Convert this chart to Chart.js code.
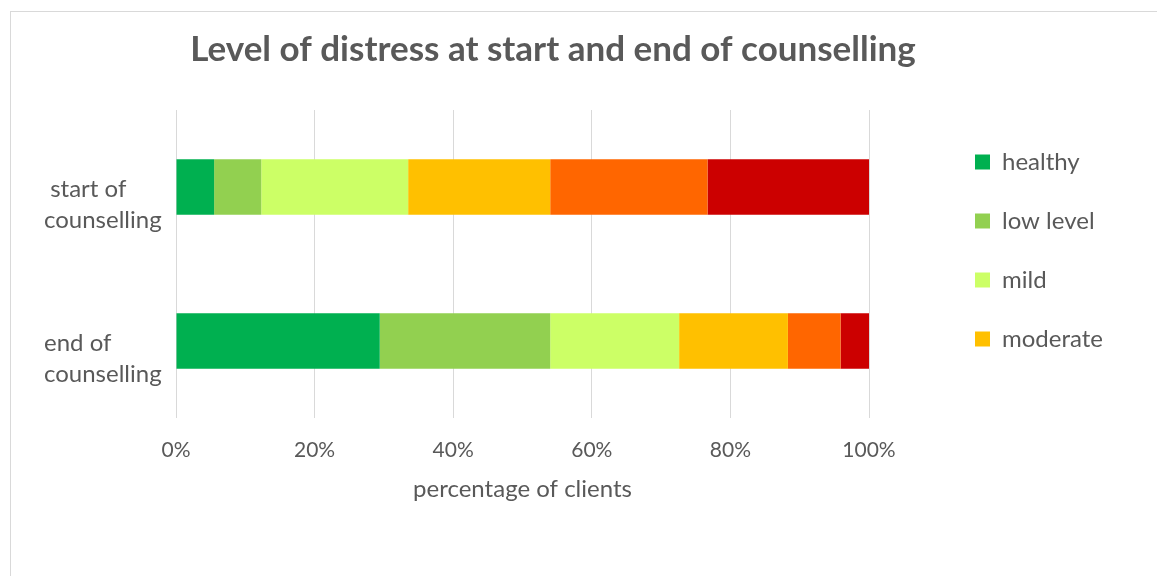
<!DOCTYPE html>
<html>
<head>
<meta charset="utf-8">
<script src="https://cdn.jsdelivr.net/npm/chart.js@4/dist/chart.umd.min.js"></script>
<style>
  html, body { margin: 0; padding: 0; background: #ffffff; width: 1157px; height: 576px; overflow: hidden; }
  #frame { position: absolute; left: 10px; top: 11px; width: 1200px; height: 620px; border: 1px solid #d9d9d9; box-sizing: border-box; }
  #wrap { position: absolute; left: 0; top: 0; width: 1157px; height: 576px; }
</style>
</head>
<body>
<div id="frame"></div>
<div id="wrap"><canvas id="chart" width="1157" height="576"></canvas></div>
<script>
// Chart text
const chartTitle = 'Level of distress at start and end of counselling';
const axisTitle = 'percentage of clients';

// Rows (multi-line labels)
const categories = [[' start of', 'counselling'], ['end of', 'counselling']];

// Distress levels, in stacking order
const levels = ['healthy', 'low level', 'mild', 'moderate', 'moderately severe', 'severe'];
const levelColours = ['#00B050', '#92D050', '#CCFF66', '#FFC000', '#FF6600', '#CC0000'];

// Percentage of clients in each level
const startValues = [5.5, 6.8, 21.2, 20.5, 22.7, 23.3];
const endValues = [29.4, 24.6, 18.6, 15.7, 7.6, 4.1];

// Axis ticks (percent)
const xTicks = [0, 20, 40, 60, 80, 100];

// Only these entries fit in the legend
const legendShown = ['healthy', 'low level', 'mild', 'moderate'];

const FONT = 'Lato, "Open Sans", sans-serif';
const TEXT = '#595959';
const RIGHT_PAD = 44;

const datasets = levels.map((name, i) => ({
  label: name,
  data: [startValues[i], endValues[i]],
  backgroundColor: levelColours[i],
  borderWidth: 0,
  categoryPercentage: 0.36,
  barPercentage: 1
}));

// Draws the chart heading centred over the whole figure
const headingPlugin = {
  id: 'heading',
  afterDraw(chart) {
    const ctx = chart.ctx;
    ctx.save();
    ctx.font = 'bold 35px ' + FONT;
    ctx.fillStyle = TEXT;
    ctx.textAlign = 'center';
    ctx.textBaseline = 'middle';
    ctx.fillText(chartTitle, 553, 50);
    ctx.restore();
  }
};

new Chart(document.getElementById('chart'), {
  type: 'bar',
  data: { labels: categories, datasets },
  plugins: [headingPlugin],
  options: {
    indexAxis: 'y',
    responsive: false,
    animation: false,
    devicePixelRatio: 1,
    layout: { padding: { left: 44, top: 110, bottom: 72, right: RIGHT_PAD } },
    scales: {
      x: {
        stacked: true,
        min: 0,
        max: 100,
        afterBuildTicks(scale) { scale.ticks = xTicks.map(v => ({ value: v })); },
        afterFit(scale) { scale.height = 86; },
        grid: { color: '#d9d9d9', lineWidth: 1, drawTicks: false },
        border: { display: false },
        ticks: {
          color: TEXT,
          padding: 20,
          font: { family: FONT, size: 21 },
          callback: v => v + '%'
        },
        title: {
          display: true,
          text: axisTitle,
          color: TEXT,
          font: { family: FONT, size: 24 },
          padding: { top: 0, bottom: 0 }
        }
      },
      y: {
        stacked: true,
        grid: { display: false },
        border: { display: false },
        afterFit(scale) { scale.width = 132; },
        ticks: {
          color: TEXT,
          crossAlign: 'far',
          labelOffset: 18,
          font: { family: FONT, size: 24, lineHeight: '31px' }
        }
      },
      gap: {
        type: 'category',
        position: 'right',
        grid: { display: false },
        border: { display: false },
        ticks: { display: false },
        afterFit(scale) {
          const legendW = scale.chart.legend ? scale.chart.legend.width : 0;
          scale.width = Math.max(0, scale.chart.width - RIGHT_PAD - legendW - 869);
        }
      }
    },
    plugins: {
      title: { display: false },
      tooltip: { enabled: false },
      legend: {
        position: 'right',
        align: 'start',
        title: { display: true, text: '', font: { size: 4, lineHeight: 1.25 }, padding: 0 },
        labels: {
          color: TEXT,
          boxWidth: 15,
          boxHeight: 15,
          padding: 35,
          font: { family: FONT, size: 24 },
          filter: item => legendShown.includes(item.text)
        }
      }
    }
  }
});
</script>
</body>
</html>
